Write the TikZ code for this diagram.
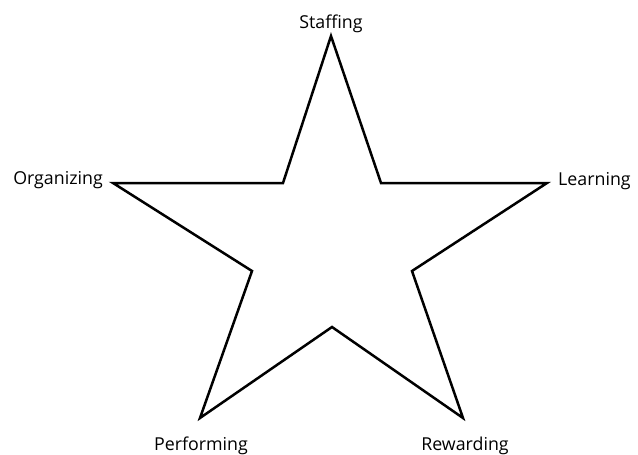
\documentclass[tikz,border=0pt]{standalone}
\usepackage{fontspec}
\setmainfont{Open Sans}
\begin{document}
\begin{tikzpicture}[x=1pt,y=-1pt,
  lbl/.style={inner sep=0pt, font=\fontsize{17.8}{20}\selectfont},
  starline/.style={draw=black, line width=2.5pt, line join=miter}]
\useasboundingbox (0,0) rectangle (638,455);
\coordinate (t) at (331,36);
\coordinate (ir) at (381,183);
\coordinate (r) at (547,183);
\coordinate (ibr) at (412,271);
\coordinate (br) at (463,418);
\coordinate (ib) at (332,327);
\coordinate (bl) at (200,418);
\coordinate (ibl) at (252,271);
\coordinate (l) at (113,183);
\coordinate (il) at (283,183);
\draw[starline] (t) -- (ir) -- (r) -- (ibr) -- (br) -- (ib) -- (bl) -- (ibl) -- (l) -- (il) -- cycle;
\node[lbl, anchor=base] (staff) at (331,28) {Staffing};
\node[lbl, anchor=base east] (org) at (103,184) {Organizing};
\node[lbl, anchor=base west] (learn) at (558,185) {Learning};
\node[lbl, anchor=base] (perf) at (201,450) {Performing};
\node[lbl, anchor=base] (rew) at (465,450) {Rewarding};
\end{tikzpicture}
\end{document}
